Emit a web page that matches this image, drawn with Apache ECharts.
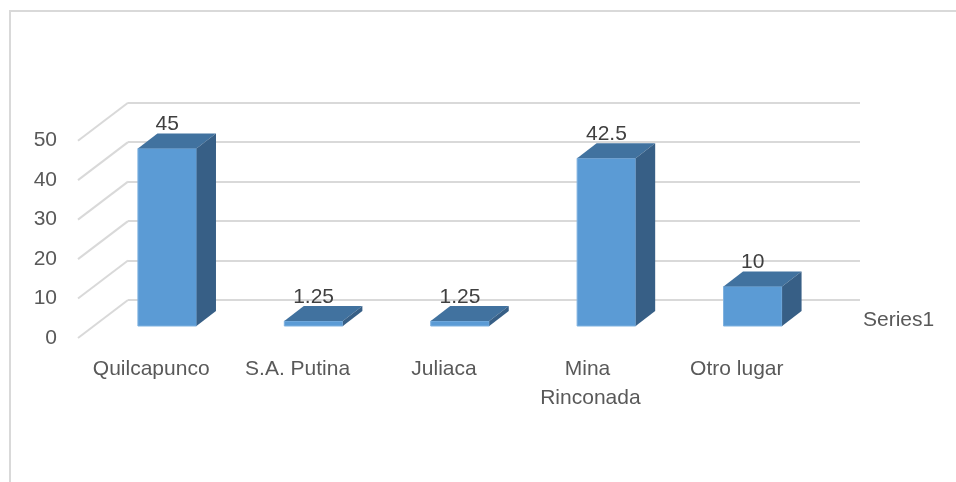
<!DOCTYPE html>
<html>
<head>
<meta charset="utf-8">
<script src="https://cdn.jsdelivr.net/npm/echarts@6/dist/echarts.min.js"></script>
<style>
  html, body { margin: 0; padding: 0; background: #fff; }
  #main { width: 956px; height: 482px; }
</style>
</head>
<body>
<div id="main"></div>
<script>
const categories = ['Quilcapunco', 'S.A. Putina', 'Juliaca', 'Mina Rinconada', 'Otro lugar']
const values = [45, 1.25, 1.25, 42.5, 10]
const tickValues = [0, 10, 20, 30, 40, 50]
const seriesName = 'Series1'

// fake 3d: offsets in px
const wallDepth = [50, -38]
const barShift = [16, -12]
const barDepth = [19.5, -15]
const font = 'Liberation Sans'

const chart = echarts.init(document.getElementById('main'))

function renderBar (params, api) {
  const i = api.value(0)
  const v = api.value(1)
  const base = api.coord([i, 0])
  const top = api.coord([i, v])
  const w = api.size([1, 0])[0] * 0.4
  const xl = base[0] - w / 2 + barShift[0]
  const xr = xl + w
  const yb = base[1] + barShift[1]
  const yt = top[1] + barShift[1]
  const dx = barDepth[0]
  const dy = barDepth[1]
  return {
    type: 'group',
    children: [
      {
        type: 'polygon',
        shape: { points: [[xl, yt], [xr, yt], [xr, yb], [xl, yb]] },
        style: { fill: '#5b9bd5', stroke: '#7fb1df', lineWidth: 1 }
      },
      {
        type: 'polygon',
        shape: { points: [[xl, yt], [xr, yt], [xr + dx, yt + dy], [xl + dx, yt + dy]] },
        style: { fill: '#41729f' }
      },
      {
        type: 'polygon',
        shape: { points: [[xr, yt], [xr + dx, yt + dy], [xr + dx, yb + dy], [xr, yb]] },
        style: { fill: '#375f86' }
      },
      {
        type: 'text',
        style: {
          x: (xl + xr) / 2,
          y: yt + dy - 9,
          text: String(v),
          fill: '#404040',
          font: '21px "' + font + '"',
          align: 'center',
          verticalAlign: 'middle'
        }
      }
    ]
  }
}

function renderSideLine (params, api) {
  const y = api.coord([0, api.value(1)])[1]
  const x = params.coordSys.x
  return {
    type: 'line',
    shape: { x1: x, y1: y, x2: x + wallDepth[0], y2: y + wallDepth[1] },
    style: { stroke: '#d9d9d9', lineWidth: 2 }
  }
}

const option = {
  backgroundColor: '#fff',
  animation: false,
  textStyle: { fontFamily: font },
  graphic: [
    {
      type: 'rect',
      shape: { x: 10, y: 11, width: 1000, height: 600 },
      style: { fill: 'none', stroke: '#d9d9d9', lineWidth: 2 },
      silent: true
    },
    {
      type: 'text',
      style: {
        x: 863,
        y: 320,
        text: seriesName,
        fill: '#595959',
        font: '21px "' + font + '"',
        verticalAlign: 'middle'
      }
    }
  ],
  grid: [
    // back wall
    { left: 128, right: 96, top: 102.7, bottom: 182 },
    // front plane
    { left: 78, right: 146, top: 140.7, bottom: 144 }
  ],
  xAxis: [
    {
      gridIndex: 0,
      type: 'category',
      data: categories,
      axisLine: { show: false },
      axisTick: { show: false },
      axisLabel: { show: false }
    },
    {
      gridIndex: 1,
      type: 'category',
      data: categories,
      axisLine: { show: false },
      axisTick: { show: false },
      axisLabel: {
        interval: 0,
        margin: 17,
        color: '#595959',
        fontSize: 21,
        fontFamily: font,
        lineHeight: 29,
        width: 135,
        overflow: 'break'
      }
    }
  ],
  yAxis: [
    {
      gridIndex: 0,
      type: 'value',
      min: 0,
      max: 50,
      interval: 10,
      axisLabel: { show: false },
      splitLine: { lineStyle: { color: '#d9d9d9', width: 2 } }
    },
    {
      gridIndex: 1,
      type: 'value',
      min: 0,
      max: 50,
      interval: 10,
      axisLine: { show: false },
      axisTick: { show: false },
      splitLine: { show: false },
      axisLabel: {
        margin: 21,
        color: '#595959',
        fontSize: 21,
        fontFamily: font
      }
    }
  ],
  series: [
    {
      type: 'custom',
      xAxisIndex: 1,
      yAxisIndex: 1,
      silent: true,
      renderItem: renderSideLine,
      data: tickValues.map(v => [0, v])
    },
    {
      name: seriesName,
      type: 'custom',
      xAxisIndex: 1,
      yAxisIndex: 1,
      renderItem: renderBar,
      data: values.map((v, i) => [i, v])
    }
  ]
}

chart.setOption(option)
</script>
</body>
</html>
